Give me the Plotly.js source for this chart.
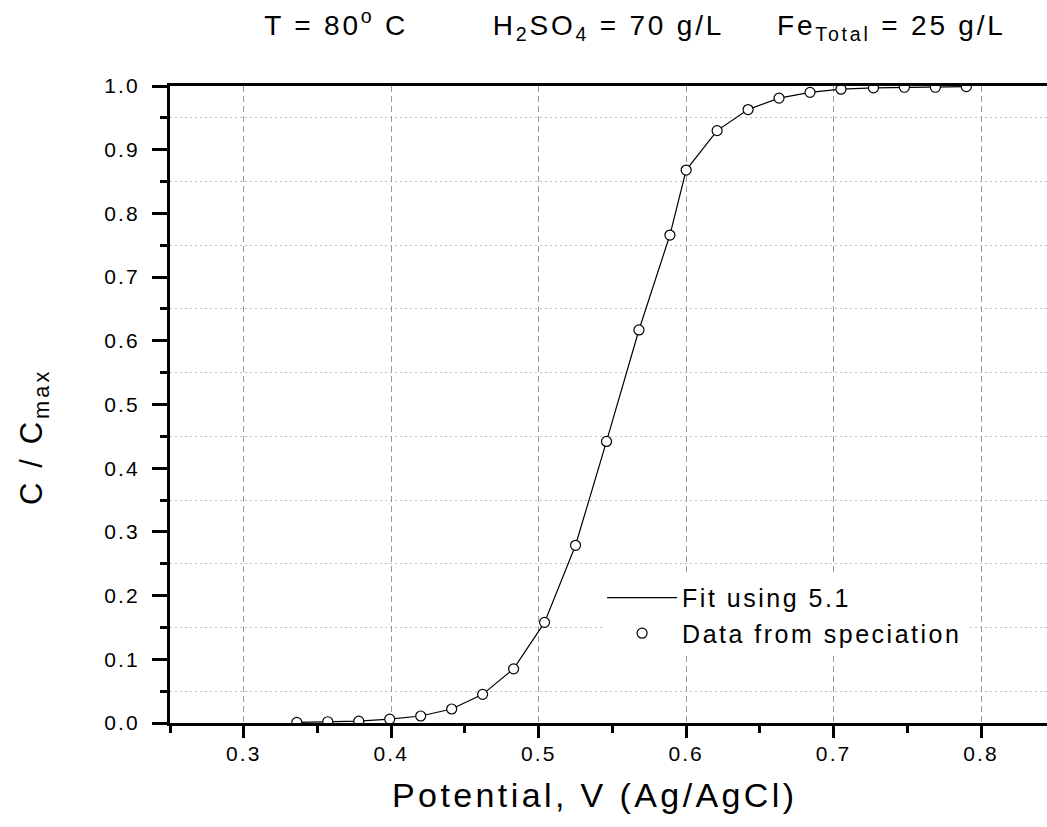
<!DOCTYPE html>
<html>
<head>
<meta charset="utf-8">
<script src="https://cdn.plot.ly/plotly-3.0.1.min.js"></script>
<style>
  html, body { margin: 0; padding: 0; background: #fff; overflow: hidden; }
  #chart { width: 1047px; height: 827px; }
  svg text { letter-spacing: 0.1em; }
</style>
</head>
<body>
<div id="chart"></div>
<script>
// Potential, V (Ag/AgCl)
const potential = [0.336, 0.357, 0.378, 0.399, 0.420, 0.441, 0.462, 0.483, 0.504, 0.525, 0.546, 0.568,
                   0.589, 0.600, 0.621, 0.642, 0.663, 0.684, 0.705, 0.727, 0.748, 0.769, 0.790];
// C / Cmax from speciation
const ratio = [0.001, 0.002, 0.003, 0.006, 0.011, 0.022, 0.045, 0.085, 0.158, 0.279, 0.442, 0.617,
               0.766, 0.868, 0.930, 0.963, 0.981, 0.990, 0.995, 0.997, 0.998, 0.998, 0.999];
// Fit using 5.1 (passes through the points)
const fitX = potential;
const fitY = ratio;

const seriesNames = ['Fit using 5.1', 'Data from speciation'];
const titleText = 'T = 80<sup>o</sup> C\u00A0\u00A0\u00A0\u00A0\u00A0\u00A0\u00A0\u00A0H<sub>2</sub>SO<sub>4</sub> = 70 g/L\u00A0\u00A0\u00A0\u00A0\u00A0Fe<sub>Total</sub> = 25 g/L';
const xTitle = 'Potential, V (Ag/AgCl)';
const yTitle = 'C / C<sub>max</sub>';

const FONT = 'Arial, "Liberation Sans", sans-serif';

const traces = [
  {
    x: fitX, y: fitY, type: 'scatter', mode: 'lines', name: seriesNames[0],
    line: { color: '#000', width: 1.2 }
  },
  {
    x: potential, y: ratio, type: 'scatter', mode: 'markers', name: seriesNames[1],
    marker: { symbol: 'circle', size: 10, color: '#fff', line: { color: '#000', width: 1.2 } }
  }
];

const layout = {
  width: 1047, height: 827,
  margin: { l: 170, r: 0, t: 86, b: 104, pad: 0 },
  paper_bgcolor: '#fff', plot_bgcolor: '#fff',
  font: { family: FONT, color: '#000' },
  showlegend: true,
  title: {
    text: titleText, font: { family: FONT, size: 28, color: '#000' },
    xref: 'container', x: 635 / 1047, xanchor: 'center',
    yref: 'container', y: 1 - 25 / 827, yanchor: 'middle'
  },
  xaxis: {
    range: [0.25, 0.8447], dtick: 0.1, tick0: 0, tickformat: '.1f',
    showline: true, linecolor: '#000', linewidth: 3, mirror: true,
    ticks: 'outside', ticklen: 12, tickwidth: 3, tickcolor: '#000',
    ticklabelstandoff: -2,
    tickfont: { family: FONT, size: 21, color: '#000' },
    showgrid: true, gridcolor: '#9a9a9a', gridwidth: 1, griddash: '6px,4px',
    zeroline: false,
    minor: { dtick: 0.05, ticks: 'outside', ticklen: 7, tickwidth: 3, tickcolor: '#000', showgrid: false }
  },
  yaxis: {
    range: [0, 1], dtick: 0.1, tick0: 0, tickformat: '.1f',
    showline: true, linecolor: '#000', linewidth: 3, mirror: false,
    ticks: 'outside', ticklen: 15, tickwidth: 3, tickcolor: '#000',
    ticklabelstandoff: 8,
    tickfont: { family: FONT, size: 21, color: '#000' },
    showgrid: false, zeroline: false,
    minor: { dtick: 0.05, ticks: 'outside', ticklen: 7, tickwidth: 3, tickcolor: '#000',
             showgrid: true, gridcolor: '#bdbdbd', gridwidth: 1, griddash: '2px,3px' }
  },
  annotations: [
    {
      text: xTitle, showarrow: false, xref: 'paper', yref: 'paper',
      x: (595 - 170) / 877, y: (723 - 795) / 637, xanchor: 'center', yanchor: 'middle',
      font: { family: FONT, size: 34, color: '#000' }
    },
    {
      text: yTitle, showarrow: false, xref: 'paper', yref: 'paper', textangle: -90,
      x: (34 - 170) / 877, y: (723 - 437) / 637, xanchor: 'center', yanchor: 'middle',
      font: { family: FONT, size: 31, color: '#000' }
    }
  ],
  legend: {
    x: 0.4927, xanchor: 'left', y: 0.2324, yanchor: 'top',
    bgcolor: '#fff', borderwidth: 0,
    font: { family: FONT, size: 25, color: '#000' },
    tracegroupgap: 0, itemwidth: 70
  }
};

Plotly.newPlot('chart', traces, layout, { displayModeBar: false, staticPlot: true });
</script>
</body>
</html>
